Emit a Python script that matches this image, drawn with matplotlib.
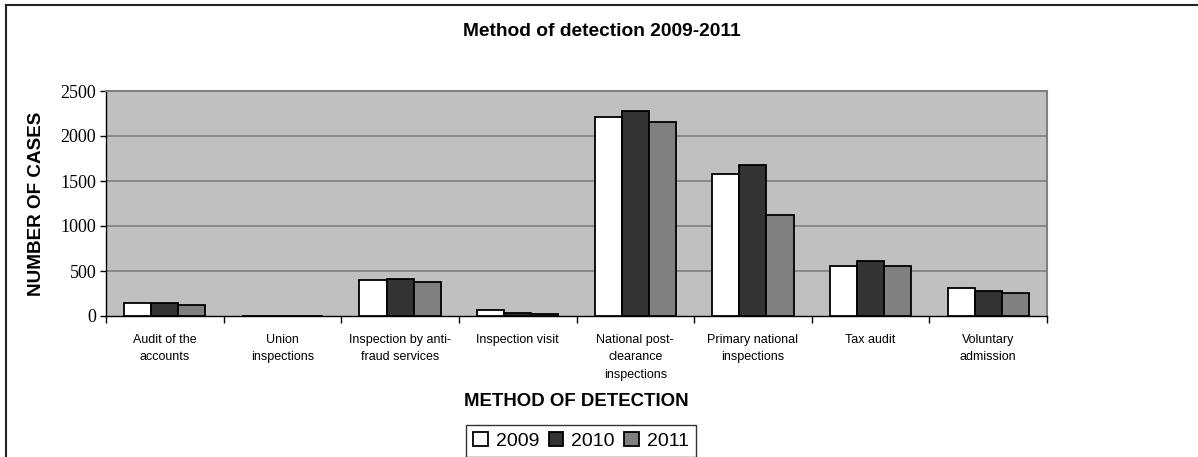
import matplotlib
matplotlib.use("Agg")
import matplotlib.pyplot as plt
import numpy as np
from matplotlib.lines import Line2D

categories = ["Audit of the\naccounts", "Union\ninspections", "Inspection by anti-\nfraud services",
              "Inspection visit", "National post-\nclearance\ninspections", "Primary national\ninspections",
              "Tax audit", "Voluntary\nadmission"]
years = ["2009", "2010", "2011"]
v2009 = [140, 5, 400, 65, 2215, 1580, 552, 315]
v2010 = [145, 3, 415, 37, 2280, 1680, 615, 281]
v2011 = [120, 2, 375, 20, 2160, 1126, 555, 259]
yticks = [0, 500, 1000, 1500, 2000, 2500]

W, H = 1198, 457
fig = plt.figure(figsize=(W / 100, H / 100), dpi=100)
ax = fig.add_axes([106 / W, 1 - 316 / H, (1047 - 106) / W, (316 - 91) / H])
ax.set_facecolor("#C0C0C0")

x = np.arange(len(categories))
bw = 0.23
colors = ["#FFFFFF", "#333333", "#808080"]
for i, (vals, c, lab) in enumerate(zip([v2009, v2010, v2011], colors, years)):
    ax.bar(x + (i - 1) * bw, vals, bw, color=c, edgecolor="black", linewidth=1.3, label=lab, zorder=3)

ax.set_xlim(-0.5, len(categories) - 0.5)
ax.set_ylim(0, 2500)
ax.set_yticks(yticks)
ax.set_yticklabels([str(t) for t in yticks], family="Liberation Serif", fontsize=13)
for t in yticks[1:]:
    ax.axhline(t, color="#808080", linewidth=1.2, zorder=1)

ax.set_xticks(x)
ax.set_xticklabels(categories, family="Liberation Sans", fontsize=9, linespacing=1.6, va="top")
ax.tick_params(axis="x", length=0, pad=13)
ax.set_xticks(np.arange(-0.5, len(categories) + 0.5, 1), minor=True)
ax.tick_params(axis="x", which="minor", length=5, width=1, direction="out", color="black")
ax.tick_params(axis="y", length=4, width=1, direction="out", pad=3)

for s in ["top", "right"]:
    ax.spines[s].set_color("#808080")
    ax.spines[s].set_linewidth(1.5)
for s in ["left", "bottom"]:
    ax.spines[s].set_color("black")
    ax.spines[s].set_linewidth(1)

fig.text(602 / W, 1 - 32 / H, "Method of detection 2009-2011", ha="center", va="center",
         family="Liberation Sans", fontweight="bold", fontsize=13.8)
fig.text(37 / W, 1 - 204 / H, "NUMBER OF CASES", ha="center", va="center", rotation=90,
         family="Liberation Sans", fontweight="bold", fontsize=13.6)
fig.text(576 / W, 1 - 402 / H, "METHOD OF DETECTION", ha="center", va="center",
         family="Liberation Sans", fontweight="bold", fontsize=13.4)

leg = fig.legend(loc="upper center", bbox_to_anchor=(581 / W, 1 - 425 / H), ncol=3,
                 prop={"family": "Liberation Sans", "size": 14}, frameon=True, fancybox=False,
                 handlelength=0.75, handleheight=0.75, handletextpad=0.4, columnspacing=0.5,
                 borderpad=0.35, borderaxespad=0)
leg.get_frame().set_edgecolor("black")
leg.get_frame().set_linewidth(1)

fig.add_artist(Line2D([6 / W, 6 / W], [0, 1 - 5 / H], transform=fig.transFigure, color="#222222", linewidth=1.5))
fig.add_artist(Line2D([6 / W, 1], [1 - 5 / H, 1 - 5 / H], transform=fig.transFigure, color="#222222", linewidth=1.5))

fig.savefig("out.png", dpi=100)
